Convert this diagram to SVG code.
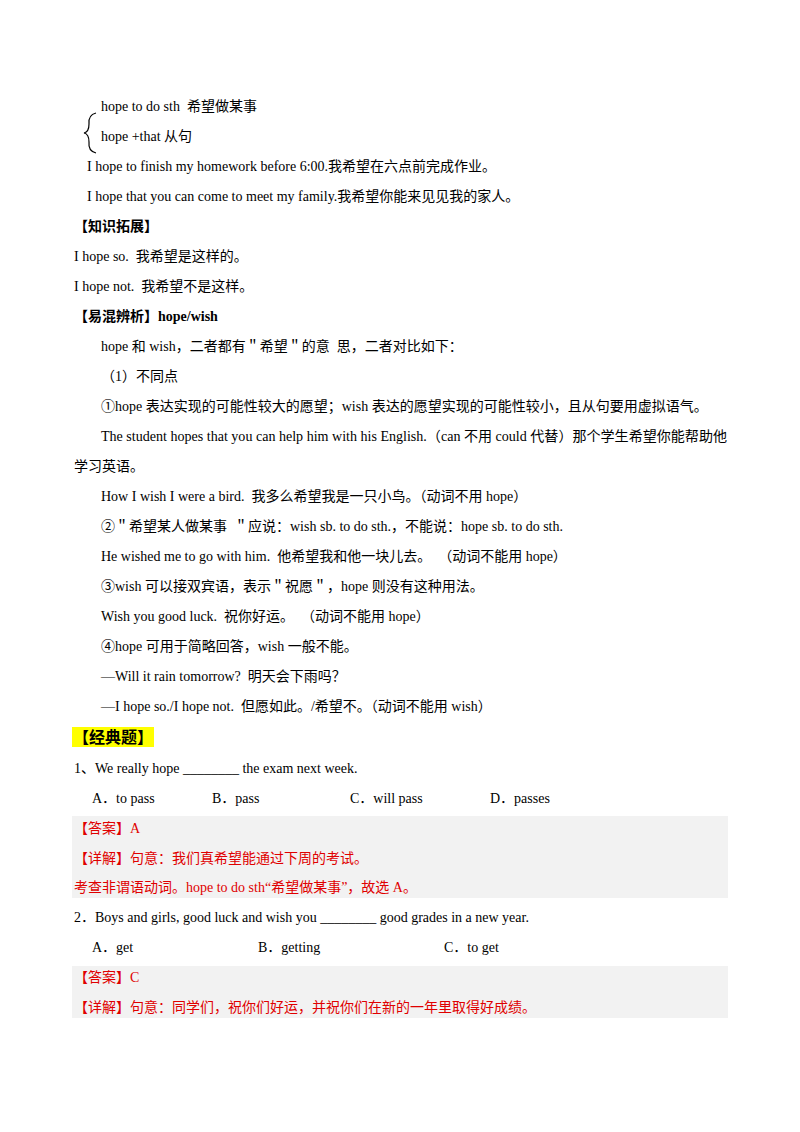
<svg xmlns="http://www.w3.org/2000/svg" width="800" height="1132" viewBox="0 0 800 1132">
<style>
text{font-family:"Liberation Serif","Noto Sans CJK SC",serif;font-size:14px;fill:#000;white-space:pre}
.b{font-weight:bold}
.r{fill:#e00000}
</style>
<rect width="800" height="1132" fill="#fff"/>
<rect x="72" y="816" width="656" height="82" fill="#f2f2f2"/>
<rect x="72" y="966" width="656" height="52" fill="#f2f2f2"/>
<rect x="72" y="727" width="82" height="20" fill="#ffff00"/>
<path d="M96,113 Q88,115 89,124 Q89,132 84,133 Q89,134 89,142 Q88,151 96,153" fill="none" stroke="#000" stroke-width="1.2"/>
<text x="101" y="111">hope to do sth  希望做某事</text>
<text x="101" y="141">hope +that 从句</text>
<text x="87" y="171">I hope to finish my homework before 6:00.我希望在六点前完成作业。</text>
<text x="87" y="201">I hope that you can come to meet my family.我希望你能来见见我的家人。</text>
<text x="74" y="231" class="b">【知识拓展】</text>
<text x="74" y="261">I hope so.  我希望是这样的。</text>
<text x="74" y="291">I hope not.  我希望不是这样。</text>
<text x="74" y="321" class="b">【易混辨析】hope/wish</text>
<text x="101" y="351">hope 和 wish，二者都有＂希望＂的意  思，二者对比如下：</text>
<text x="101" y="381">（1）不同点</text>
<text x="101" y="411">①hope 表达实现的可能性较大的愿望；wish 表达的愿望实现的可能性较小，且从句要用虚拟语气。</text>
<text x="101" y="441" textLength="626" lengthAdjust="spacingAndGlyphs">The student hopes that you can help him with his English.（can 不用 could 代替）那个学生希望你能帮助他</text>
<text x="74" y="471">学习英语。</text>
<text x="101" y="501">How I wish I were a bird.  我多么希望我是一只小鸟。（动词不用 hope）</text>
<text x="101" y="531">②＂希望某人做某事  ＂应说：wish sb. to do sth.，不能说：hope sb. to do sth.</text>
<text x="101" y="561">He wished me to go with him.  他希望我和他一块儿去。  （动词不能用 hope）</text>
<text x="101" y="591">③wish 可以接双宾语，表示＂祝愿＂，hope 则没有这种用法。</text>
<text x="101" y="621">Wish you good luck.  祝你好运。  （动词不能用 hope）</text>
<text x="101" y="651">④hope 可用于简略回答，wish 一般不能。</text>
<text x="101" y="681">—Will it rain tomorrow?  明天会下雨吗？</text>
<text x="101" y="711">—I hope so./I hope not.  但愿如此。/希望不。（动词不能用 wish）</text>
<text x="73" y="743" class="b" style="font-size:16px">【经典题】</text>
<text x="74" y="773">1、We really hope ________ the exam next week.</text>
<text x="92" y="803">A．to pass</text>
<text x="212" y="803">B．pass</text>
<text x="350" y="803">C．will pass</text>
<text x="490" y="803">D．passes</text>
<text x="74" y="833" class="r">【答案】A</text>
<text x="74" y="863" class="r">【详解】句意：我们真希望能通过下周的考试。</text>
<text x="74" y="892" class="r">考查非谓语动词。hope to do sth“希望做某事”，故选 A。</text>
<text x="74" y="922">2．Boys and girls, good luck and wish you ________ good grades in a new year.</text>
<text x="92" y="952">A．get</text>
<text x="258" y="952">B．getting</text>
<text x="444" y="952">C．to get</text>
<text x="74" y="982" class="r">【答案】C</text>
<text x="74" y="1012" class="r">【详解】句意：同学们，祝你们好运，并祝你们在新的一年里取得好成绩。</text>
</svg>
